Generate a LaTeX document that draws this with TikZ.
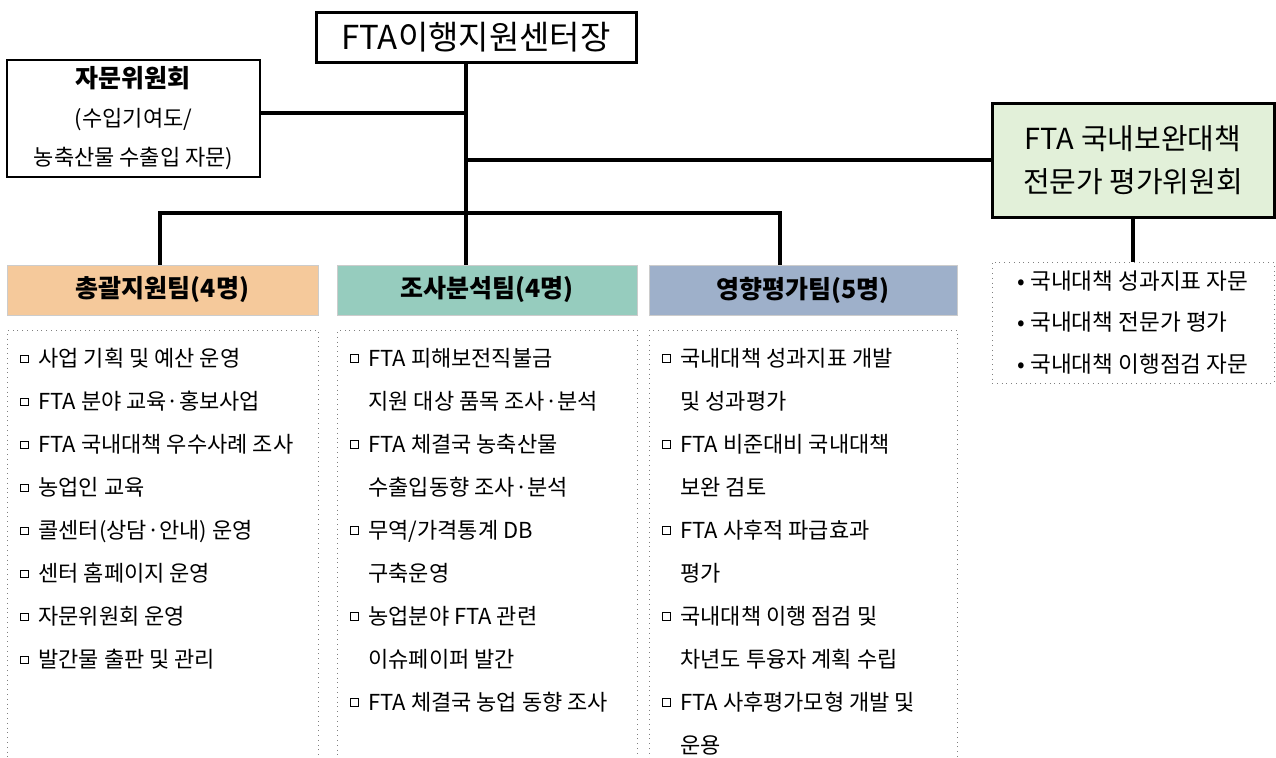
\documentclass[tikz,border=0pt]{standalone}
\usepackage{fontspec}
\setmainfont{Noto Sans CJK KR}
\usetikzlibrary{positioning}

\definecolor{teamA}{HTML}{F5C99B}
\definecolor{teamB}{HTML}{96CCBE}
\definecolor{teamC}{HTML}{9EB0CA}
\definecolor{panel}{HTML}{E2F0D9}

\newcommand{\sq}{\makebox[9pt][l]{\raisebox{0.2em}{\setlength{\fboxsep}{0pt}\setlength{\fboxrule}{0.4pt}\fbox{\rule{0pt}{3.5pt}\hspace{3.5pt}}}}}
\newcommand{\ind}{\hspace*{9pt}}
\newcommand{\listtext}[2]{\parbox[t][220pt][t]{#1}{\vspace*{9pt}\raggedright #2}}

\begin{document}
\begin{tikzpicture}[
  x=0.5pt, y=-0.5pt,
  link/.style={line width=2pt},
  team/.style={draw=black!20, minimum height=25pt, inner sep=0pt,
    font=\bfseries\fontsize{12.5}{14}\selectfont},
  listbox/.style={draw=black!50, dotted, anchor=north west, inner xsep=6.5pt,
    inner ysep=0pt, font=\fontsize{11}{21.5}\selectfont}
]
  \useasboundingbox (0,0) rectangle (1276,757);

  \node[draw, line width=1.5pt, minimum width=160pt, minimum height=25pt,
    font=\fontsize{16.5}{18}\selectfont] (head) at (476,37) {FTA이행지원센터장};
  \node[draw, line width=1pt, minimum width=126.5pt, minimum height=56.5pt,
    align=center, font=\fontsize{11}{19.5}\selectfont] (adv) at (133.5,118.5)
    {\textbf{\fontsize{12.5}{19.5}\selectfont 자문위원회}\\(수입기여도/\\농축산물 수출입 자문)};
  \node[draw, fill=panel, line width=1.5pt, minimum width=141pt, minimum height=57pt,
    align=center, font=\fontsize{14.5}{21.5}\selectfont] (eval) at (1133,160)
    {FTA 국내보완대책\\전문가 평가위원회};
  \node[draw=black!50, dotted, minimum width=141pt, minimum height=60.5pt,
    align=left, font=\fontsize{11.3}{20.75}\selectfont] (evallist) at (1133,322.5)
    {• 국내대책 성과지표 자문\\• 국내대책 전문가 평가\\• 국내대책 이행점검 자문};

  \node[team, fill=teamA, minimum width=155.5pt] (t1) at (162.5,290) {총괄지원팀(4명)};
  \node[team, fill=teamB, minimum width=150pt] (t2) at (487,290) {조사분석팀(4명)};
  \node[team, fill=teamC, minimum width=154pt] (t3) at (803,290) {영향평가팀(5명)};

  \node[listbox] (l1) at (7,330) {\listtext{142.5pt}{%
    \sq 사업 기획 및 예산 운영\\
    \sq FTA 분야 교육·홍보사업\\
    \sq FTA 국내대책 우수사례 조사\\
    \sq 농업인 교육\\
    \sq 콜센터(상담·안내) 운영\\
    \sq 센터 홈페이지 운영\\
    \sq 자문위원회 운영\\
    \sq 발간물 출판 및 관리}};
  \node[listbox] (l2) at (337,330) {\listtext{137pt}{%
    \sq FTA 피해보전직불금\\
    \ind 지원 대상 품목 조사·분석\\
    \sq FTA 체결국 농축산물\\
    \ind 수출입동향 조사·분석\\
    \sq 무역/가격통계 DB\\
    \ind 구축운영\\
    \sq 농업분야 FTA 관련\\
    \ind 이슈페이퍼 발간\\
    \sq FTA 체결국 농업 동향 조사}};
  \node[listbox] (l3) at (649,330) {\listtext{141pt}{%
    \sq 국내대책 성과지표 개발\\
    \ind 및 성과평가\\
    \sq FTA 비준대비 국내대책\\
    \ind 보완 검토\\
    \sq FTA 사후적 파급효과\\
    \ind 평가\\
    \sq 국내대책 이행 점검 및\\
    \ind 차년도 투융자 계획 수립\\
    \sq FTA 사후평가모형 개발 및\\
    \ind 운용}};

  \coordinate (bar) at (466,213);
  \draw[link] (head.south -| bar) -- (t2.north -| bar);
  \draw[link] ([yshift=2.75pt]adv.east) -- ([yshift=2.75pt]adv.east -| bar);
  \draw[link] (eval.west -| bar) -- (eval.west);
  \draw[link] ([xshift=-1.25pt]t1.north) |- (bar) -| ([xshift=-11.5pt]t3.north);
  \draw[link] (eval.south) -- (evallist.north);
\end{tikzpicture}
\end{document}
